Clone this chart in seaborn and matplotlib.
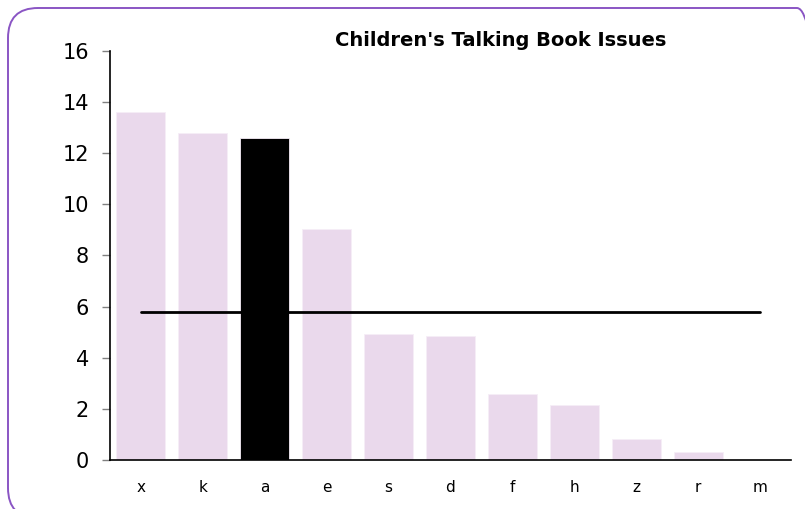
import matplotlib
matplotlib.use("Agg")
import matplotlib.pyplot as plt
import seaborn as sns
from matplotlib.patches import FancyBboxPatch
from matplotlib.transforms import IdentityTransform

categories = ["x", "k", "a", "e", "s", "d", "f", "h", "z", "r", "m"]
issues = [13.63, 12.81, 12.60, 9.03, 4.93, 4.85, 2.58, 2.14, 0.82, 0.33, 0.0]
highlight = "a"
average = 5.8
y_ticks = [0, 2, 4, 6, 8, 10, 12, 14, 16]

pink = "#ead9ec"
colors = ["black" if c == highlight else pink for c in categories]

sns.set_style("white")
plt.rcParams['font.family'] = ['DejaVu Sans']
plt.rcParams['text.color'] = 'black'
plt.rcParams['xtick.color'] = 'black'
plt.rcParams['ytick.color'] = 'black'

fig = plt.figure(figsize=(8.05, 5.09), dpi=100)
ax = fig.add_axes([0.1366, 0.0963, 0.846, 0.8035])

# rounded purple frame, runs off the right and bottom edges (pixel coords)
frame = FancyBboxPatch((8, -9), 819, 510,
                       boxstyle="round,pad=0,rounding_size=30",
                       transform=IdentityTransform(), facecolor="none",
                       edgecolor="#8a55c4", linewidth=1.4)
fig.patches.append(frame)

sns.barplot(x=categories, y=issues, hue=categories, palette=colors,
            legend=False, width=0.79, edgecolor="#f6eef7", linewidth=0.6,
            saturation=1, ax=ax)

# average line across all categories
ax.plot([0, len(categories) - 1], [average, average], color="black", lw=2)

ax.set_xlim(-0.5, len(categories) - 0.5)
ax.set_ylim(0, 16)
ax.set_yticks(y_ticks)
ax.tick_params(axis="y", left=True, length=6, width=1, color="#808080",
               labelcolor="black", labelsize=15, pad=9)
ax.tick_params(axis="x", bottom=False, labelcolor="black", labelsize=11, pad=11)

sns.despine(ax=ax)
ax.spines["left"].set_color("black")
ax.spines["bottom"].set_color("black")
ax.spines["left"].set_linewidth(1.2)
ax.spines["bottom"].set_linewidth(1.2)

fig.text(0.6224, 0.921, "Children's Talking Book Issues", ha="center",
         va="center", fontsize=14, fontweight="bold", color="black")

fig.savefig("out.png", dpi=100)
